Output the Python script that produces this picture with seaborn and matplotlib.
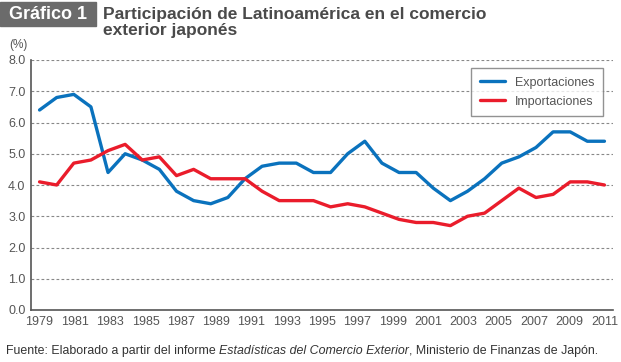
import numpy as np
import pandas as pd
import matplotlib
matplotlib.use('Agg')
import matplotlib.pyplot as plt
from matplotlib.patches import Rectangle
import seaborn as sns

# Data, 1979-2012
years = list(range(1979, 2013))
exportaciones = [6.4, 6.8, 6.9, 6.5, 4.4, 5.0, 4.8, 4.5, 3.8, 3.5, 3.4, 3.6, 4.2, 4.6, 4.7, 4.7, 4.4,
                 4.4, 5.0, 5.4, 4.7, 4.4, 4.4, 3.9, 3.5, 3.8, 4.2, 4.7, 4.9, 5.2, 5.7, 5.7, 5.4, 5.4]
importaciones = [4.1, 4.0, 4.7, 4.8, 5.1, 5.3, 4.8, 4.9, 4.3, 4.5, 4.2, 4.2, 4.2, 3.8, 3.5, 3.5, 3.5,
                 3.3, 3.4, 3.3, 3.1, 2.9, 2.8, 2.8, 2.7, 3.0, 3.1, 3.5, 3.9, 3.6, 3.7, 4.1, 4.1, 4.0]
tick_years = [str(y) for y in range(1979, 2012, 2)]
y_ticks = [0, 1, 2, 3, 4, 5, 6, 7, 8]

sns.set_style('white')
plt.rcParams['font.family'] = ['Liberation Sans', 'DejaVu Sans']

df = pd.DataFrame({'pos': list(range(len(years))) * 2,
                   'valor': exportaciones + importaciones,
                   'serie': ['Exportaciones'] * len(years) + ['Importaciones'] * len(years)})

grey = '#555555'
fig = plt.figure(figsize=(6.21, 3.62), dpi=100)
ax = fig.add_axes([31 / 621, 1 - 310 / 362, 582 / 621, 250 / 362])

sns.lineplot(data=df, x='pos', y='valor', hue='serie', ax=ax,
             palette={'Exportaciones': '#0a72bd', 'Importaciones': '#ea1c2b'},
             linewidth=2.4)

n = len(years)
ax.set_xlim(-0.5, n - 0.5)
ax.set_ylim(0, 8)
ax.set_yticks(y_ticks)
ax.set_yticklabels([f'{v:.1f}' for v in y_ticks])
ax.set_xticks(np.linspace(0, n - 1, len(tick_years)))
ax.set_xticklabels(tick_years)
ax.set_xticks(np.arange(0.5, n, 1.0), minor=True)
ax.tick_params(axis='x', which='major', length=0, pad=4, labelsize=9, colors=grey)
ax.tick_params(axis='x', which='minor', length=4, width=0.9, color=grey, direction='out')
ax.tick_params(axis='y', length=0, pad=4, labelsize=9, colors=grey)
ax.set_xlabel('')
ax.set_ylabel('')

for yv in y_ticks[1:]:
    ax.axhline(yv, color='#888888', linestyle=(0, (2.5, 2)), linewidth=0.8, zorder=0)

for s in ['top', 'right']:
    ax.spines[s].set_visible(False)
for s in ['left', 'bottom']:
    ax.spines[s].set_color(grey)
    ax.spines[s].set_linewidth(1.2)

leg = ax.legend(loc='upper right', bbox_to_anchor=(572 / 582, 242 / 250), borderaxespad=0,
                fontsize=9, frameon=True, fancybox=False, edgecolor='#777777',
                handlelength=2.0, handletextpad=0.8, borderpad=0.7, labelspacing=0.55)
leg.get_frame().set_linewidth(1.0)
for t in leg.get_texts():
    t.set_color(grey)

# title block
fig.patches.append(Rectangle((0, 1 - 26 / 362), 96 / 621, 24 / 362, transform=fig.transFigure,
                             color='#6b6b6b', zorder=0))
fig.text(9 / 621, 1 - 14.5 / 362, 'Gráfico 1', color='white', fontsize=13, fontweight='bold',
         va='center', ha='left')
fig.text(103 / 621, 1 - 7 / 362, 'Participación de Latinoamérica en el comercio\nexterior japonés',
         color='#4a4a4a', fontsize=12.5, fontweight='bold', va='top', ha='left', linespacing=1.1)
fig.text(9 / 621, 1 - 45 / 362, '(%)', color=grey, fontsize=8.5, va='center', ha='left')

# footer with italic part
fig.canvas.draw()
r = fig.canvas.get_renderer()
x0 = 6 / 621
yf = 1 - 351 / 362
parts = [('Fuente: Elaborado a partir del informe ', 'normal'),
         ('Estadísticas del Comercio Exterior', 'italic'),
         (', Ministerio de Finanzas de Japón.', 'normal')]
for txt, st in parts:
    t = fig.text(x0, yf, txt, color='#333333', fontsize=8.9, style=st, va='center', ha='left')
    bb = t.get_window_extent(renderer=r)
    x0 += bb.width / fig.bbox.width

fig.savefig('out.png', dpi=100)
